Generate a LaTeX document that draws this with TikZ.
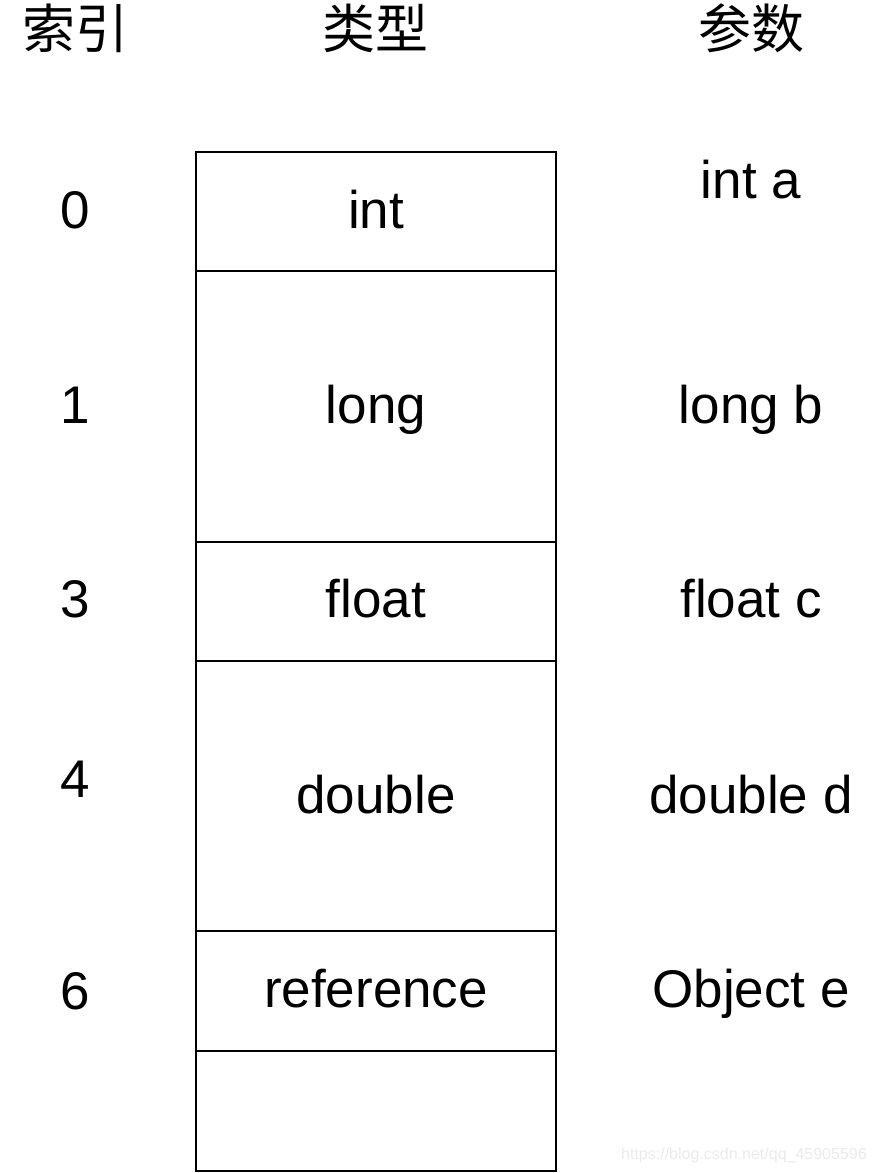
\documentclass[tikz,border=0pt]{standalone}
\usepackage{fontspec}
\setmainfont{Liberation Sans}
\newfontfamily\cjk{Noto Sans CJK SC}
\begin{document}
\begin{tikzpicture}[x=1pt,y=-1pt,
  cell/.style={draw=black, line width=2.7pt, minimum width=360pt, inner sep=0pt, outer sep=0pt},
  lab/.style={anchor=base, inner sep=0pt, font=\fontsize{53}{60}\selectfont},
  head/.style={anchor=base, inner sep=0pt, font=\cjk\fontsize{53}{60}\selectfont},
  wmark/.style={anchor=base west, inner sep=0pt, text=black!8, font=\fontsize{16}{18}\selectfont}]
\useasboundingbox[fill=white] (0,0) rectangle (873,1173);
% headers
\node[head] (h1) at (75,48) {索引};
\node[head] (h2) at (375,48) {类型};
\node[head] (h3) at (751,48) {参数};
% cells
\node[cell, minimum height=119pt] (c0) at (376,211.5) {};
\node[cell, minimum height=271pt] (c1) at (376,406.5) {};
\node[cell, minimum height=119pt] (c3) at (376,601.5) {};
\node[cell, minimum height=270pt] (c4) at (376,796) {};
\node[cell, minimum height=120pt] (c6) at (376,991) {};
\node[cell, minimum height=120pt] (c7) at (376,1111) {};
% index
\node[lab] (i0) at (75,228) {0};
\node[lab] (i1) at (75,423) {1};
\node[lab] (i3) at (75,617) {3};
\node[lab] (i4) at (75,797) {4};
\node[lab] (i6) at (75,1009) {6};
% types
\node[lab] (t0) at (376,228) {int};
\node[lab] (t1) at (376,423) {long};
\node[lab] (t3) at (376,617) {float};
\node[lab] (t4) at (376,813) {double};
\node[lab] (t6) at (376,1007) {reference};
% params
\node[lab] (p0) at (751,198) {int a};
\node[lab] (p1) at (751,423) {long b};
\node[lab] (p3) at (751,617) {float c};
\node[lab] (p4) at (751,813) {double d};
\node[lab] (p6) at (751,1007) {Object e};
% watermark
\node[wmark] (wm) at (621,1159) {https://blog.csdn.net/qq\_45905596};
\end{tikzpicture}
\end{document}
